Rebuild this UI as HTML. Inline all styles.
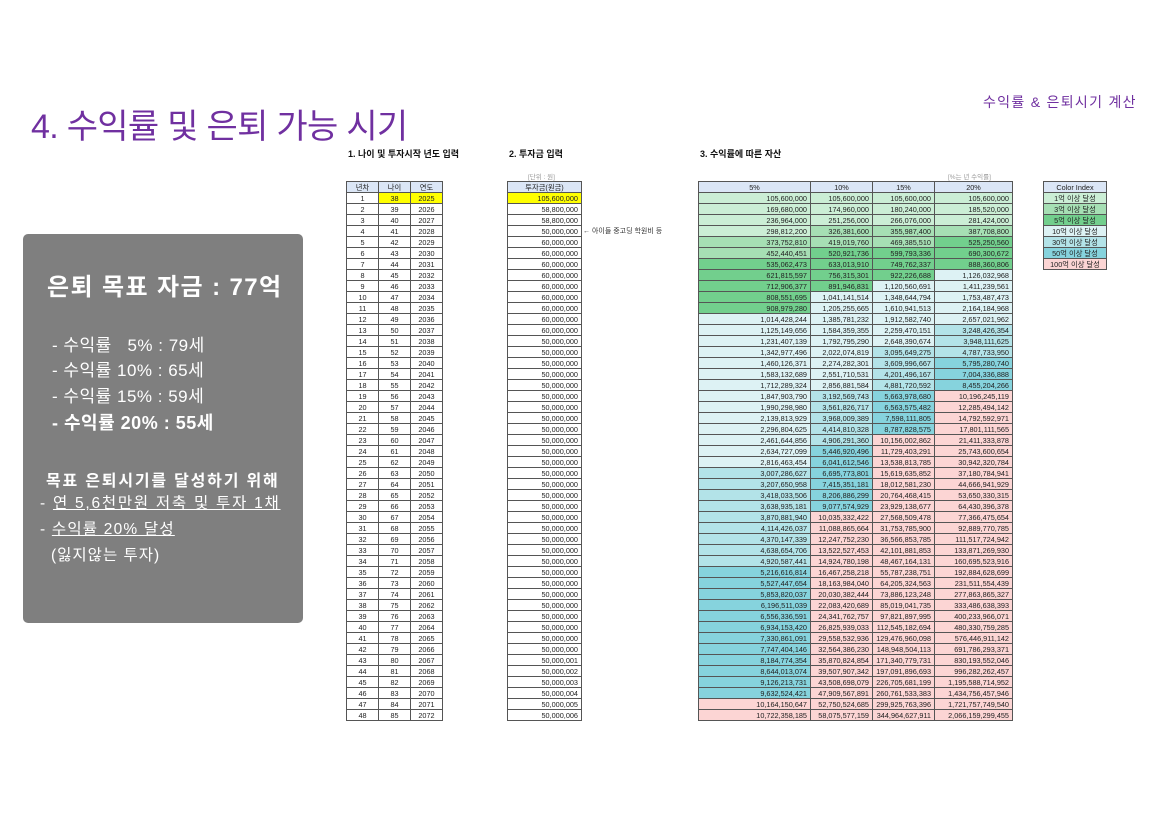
<!DOCTYPE html>
<html><head><meta charset="utf-8">
<style>
*{margin:0;padding:0;box-sizing:border-box}
body{width:1156px;height:818px;background:#fff;position:relative;overflow:hidden;font-family:"Liberation Sans","Noto Sans CJK KR",sans-serif}
.a{position:absolute;white-space:nowrap}
table{position:absolute;border-collapse:collapse;table-layout:fixed;font-size:7.3px;font-family:"Liberation Sans","Noto Sans CJK KR",sans-serif;color:#222}
td{border:1px solid #555;height:11px;line-height:9px;padding:0 3px;overflow:hidden;white-space:nowrap}
.h td{background:#dbe6f6;text-align:center}
.c{text-align:center}.r{text-align:right}
.y{background:#ffff00}
.box{position:absolute;left:23px;top:234px;width:280px;height:389px;background:#7f7f7f;border-radius:5px;color:#fff}
.sec{font-size:9px;font-weight:bold;color:#111}
</style></head><body>
<div class="a" style="left:31px;top:99px;font-size:34px;color:#7030a0;letter-spacing:-0.7px">4. 수익률 및 은퇴 가능 시기</div>
<div class="a" style="left:983px;top:92px;font-size:14px;color:#7030a0;letter-spacing:1.3px">수익률 &amp; 은퇴시기 계산</div>

<div class="box">
<div class="a" style="left:24px;top:33px;font-size:24px;font-weight:bold;letter-spacing:1.4px">은퇴 목표 자금 : 77억</div>
<div class="a" style="left:29px;top:97px;font-size:17px;letter-spacing:0.5px">- 수익률 &nbsp;&nbsp;5% : 79세</div>
<div class="a" style="left:29px;top:122px;font-size:17px;letter-spacing:0.5px">- 수익률 10% : 65세</div>
<div class="a" style="left:29px;top:148px;font-size:17px;letter-spacing:0.5px">- 수익률 15% : 59세</div>
<div class="a" style="left:29px;top:175px;font-size:18px;font-weight:bold;letter-spacing:0.5px">- 수익률 20% : 55세</div>
<div class="a" style="left:23px;top:233px;font-size:16px;font-weight:bold;letter-spacing:1.8px">목표 은퇴시기를 달성하기 위해</div>
<div class="a" style="left:17px;top:257px;font-size:15.5px;letter-spacing:1.75px">- <u>연 5,6천만원 저축 및 투자 1채</u></div>
<div class="a" style="left:17px;top:283px;font-size:15.5px;letter-spacing:1.2px">- <u>수익률 20% 달성</u></div>
<div class="a" style="left:28px;top:309px;font-size:15.5px;letter-spacing:1px">(잃지않는 투자)</div>
</div>

<div class="a sec" style="left:348px;top:147px">1. 나이 및 투자시작 년도 입력</div>
<div class="a sec" style="left:509px;top:147px">2. 투자금 입력</div>
<div class="a sec" style="left:700px;top:147px">3. 수익률에 따른 자산</div>
<div class="a" style="left:528px;top:171px;font-size:6.5px;color:#999">[단위 : 원]</div>
<div class="a" style="left:948px;top:171px;font-size:6.5px;color:#999">[%는 년 수익률]</div>
<div class="a" style="left:583px;top:226px;font-size:7px;color:#333">← 아이들 중고딩 학원비 등</div>

<table id="t1" style="left:346px;top:181px;width:96px"><colgroup><col style="width:32px"><col style="width:32px"><col style="width:32px"></colgroup></table>
<table id="t2" style="left:507px;top:181px;width:75px"></table>
<table id="t3" style="left:698px;top:181px;width:314px"><colgroup><col style="width:112px"><col style="width:62px"><col style="width:62px"><col style="width:78px"></colgroup></table>
<table id="t4" style="left:1043px;top:181px;width:64px"></table>

<script>
var inv=[105600000,58800000,58800000,50000000];
for(var i=5;i<=13;i++)inv.push(60000000);
for(var i=14;i<=42;i++)inv.push(50000000);
for(var i=43;i<=48;i++)inv.push(50000000+(i-42));
function f(n){return Math.round(n).toLocaleString('en-US');}
function col(v){if(v>=1e10)return'#fcd5d4';if(v>=5e9)return'#86d3dd';if(v>=3e9)return'#b3e3e8';if(v>=1e9)return'#ddf2f4';if(v>=5e8)return'#72cf8d';if(v>=3e8)return'#a6dfb4';if(v>=1e8)return'#cbeed5';return'#fff';}
var t1='<tr class="h"><td>년차</td><td>나이</td><td>연도</td></tr>';
var t2='<tr class="h"><td>투자금(원금)</td></tr>';
var t3='<tr class="h"><td>5%</td><td>10%</td><td>15%</td><td>20%</td></tr>';
var rates=[1.05,1.1,1.15,1.2],acc=[0,0,0,0];
for(var i=0;i<48;i++){
 var y=i===0?' y':'';
 t1+='<tr><td class="c">'+(i+1)+'</td><td class="c'+y+'">'+(38+i)+'</td><td class="c'+y+'">'+(2025+i)+'</td></tr>';
 t2+='<tr><td class="r'+y+'">'+f(inv[i])+'</td></tr>';
 t3+='<tr>';
 for(var k=0;k<4;k++){acc[k]=acc[k]*rates[k]+inv[i];t3+='<td class="r" style="background:'+col(acc[k])+'">'+f(acc[k])+'</td>';}
 t3+='</tr>';
}
document.getElementById('t1').innerHTML+=t1;
document.getElementById('t2').innerHTML=t2;
document.getElementById('t3').innerHTML+=t3;
var ci=[['1억 이상 달성','#cbeed5'],['3억 이상 달성','#a6dfb4'],['5억 이상 달성','#72cf8d'],['10억 이상 달성','#ddf2f4'],['30억 이상 달성','#b3e3e8'],['50억 이상 달성','#86d3dd'],['100억 이상 달성','#fcd5d4']];
var t4='<tr class="h"><td>Color Index</td></tr>';
ci.forEach(function(c){t4+='<tr><td class="c" style="background:'+c[1]+'">'+c[0]+'</td></tr>';});
document.getElementById('t4').innerHTML=t4;
</script>
</body></html>
